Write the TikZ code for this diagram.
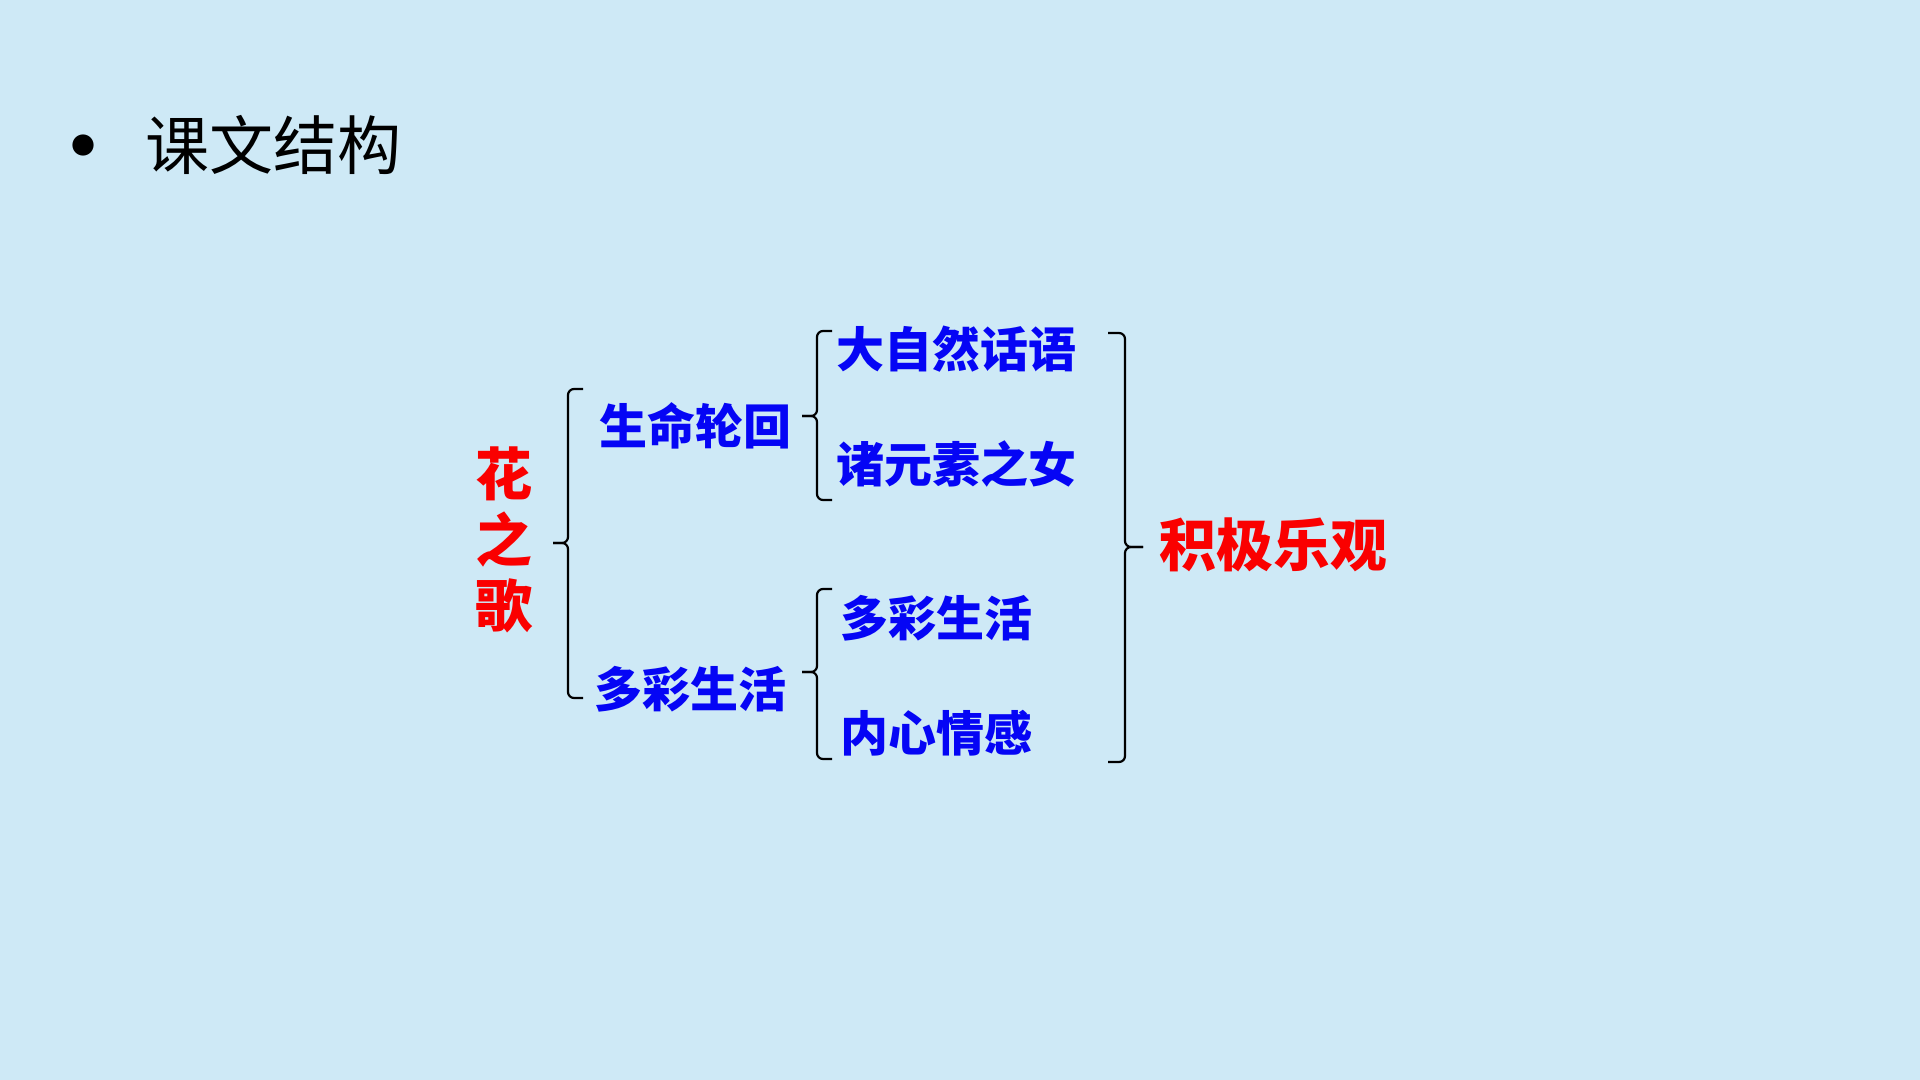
\documentclass[tikz,border=0pt]{standalone}
\usepackage{fontspec}
\setmainfont{Noto Sans CJK SC}
\usepackage{xcolor}
\usetikzlibrary{positioning}
\definecolor{bgblue}{RGB}{206,233,246}
\definecolor{txtblue}{RGB}{5,5,245}
\definecolor{txtred}{RGB}{250,0,0}
\tikzset{
  word/.style={inner sep=0pt, font=\bfseries\fontsize{24}{28}\selectfont, text=txtblue},
  redword/.style={word, text=txtred, font=\bfseries\fontsize{28.5}{33}\selectfont},
  brc/.style={draw=black, line width=1.1pt, rounded corners=3pt}
}
\begin{document}
\begin{tikzpicture}[x=0.5pt, y=-0.5pt, node distance=57.5pt and 8pt]
\useasboundingbox[fill=bgblue] (0,0) rectangle (1920,1080);
\node[inner sep=0pt, font=\fontsize{32}{36}\selectfont] (title) at (273,145) {课文结构};
\node[inner sep=0pt, font=\fontsize{50}{54}\selectfont] (dot) at (83,159) {•};
\node[redword, align=center] (song) at (504,540) {花\\之\\歌};
\node[word] (life) at (695,426) {生命轮回};
\node[word] (rich) at (690,689) {多彩生活};
\node[word] (nature) at (956,349) {大自然话语};
\node[word, below=of nature.south west, anchor=south west] (daughter) {诸元素之女};
\node[word] (rich2) at (936,618) {多彩生活};
\node[word, below=of rich2.south west, anchor=south west] (heart) {内心情感};
\node[redword] (opt) at (1273,545) {积极乐观};
% brace ends and tips
\coordinate (lb1) at (583,389);
\coordinate (lb2) at (583,698);
\coordinate (lt) at (553,543);
\coordinate (mb1) at (832,331);
\coordinate (mb2) at (832,500);
\coordinate (mt1) at (802,416);
\coordinate (mb3) at (832,589);
\coordinate (mb4) at (832,759);
\coordinate (mt2) at (802,672);
\coordinate (rb1) at (1108,333);
\coordinate (rb2) at (1108,762);
\coordinate (rt) at (1143,547);
\draw[brc] (lb1) -- ++(-15,0) |- (lt);
\draw[brc] (lb2) -- ++(-15,0) |- (lt);
\draw[brc] (mb1) -- ++(-15,0) |- (mt1);
\draw[brc] (mb2) -- ++(-15,0) |- (mt1);
\draw[brc] (mb3) -- ++(-15,0) |- (mt2);
\draw[brc] (mb4) -- ++(-15,0) |- (mt2);
\draw[brc] (rb1) -- ++(17,0) |- (rt);
\draw[brc] (rb2) -- ++(17,0) |- (rt);
\end{tikzpicture}
\end{document}
